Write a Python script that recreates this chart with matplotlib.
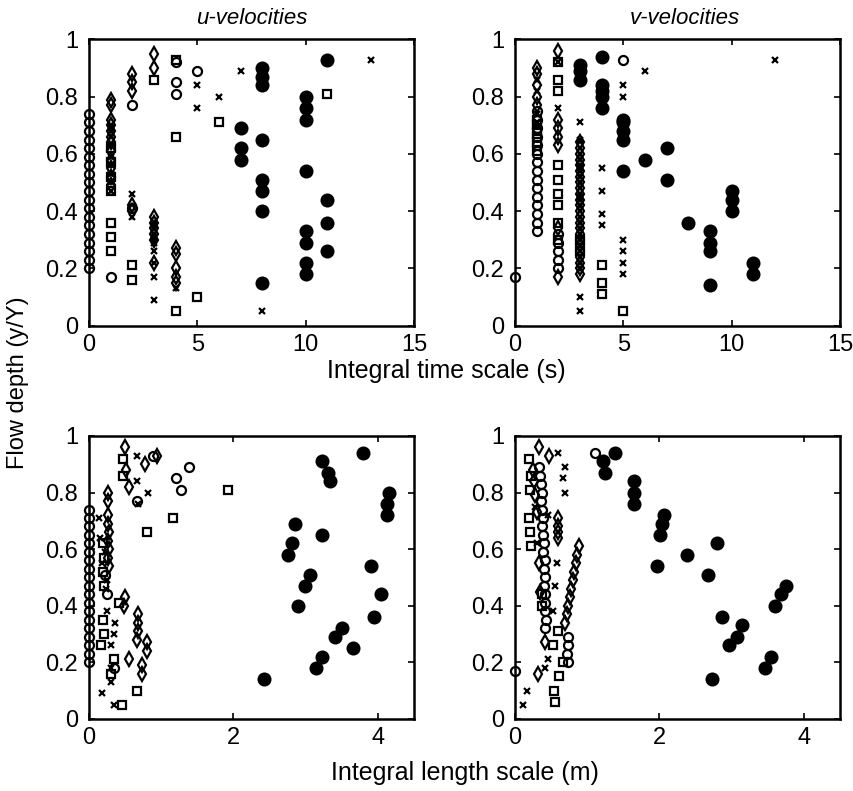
import matplotlib
matplotlib.use("Agg")
import matplotlib.pyplot as plt

plt.rcParams["font.family"] = ["Liberation Sans", "DejaVu Sans"]

# ---- u-velocities, integral time scale (s) ----
tu_circ = [(0, 0.20), (0, 0.23), (0, 0.26), (0, 0.29), (0, 0.32), (0, 0.35), (0, 0.38),
           (0, 0.41), (0, 0.44), (0, 0.47), (0, 0.50), (0, 0.53), (0, 0.56), (0, 0.59),
           (0, 0.62), (0, 0.65), (0, 0.68), (0, 0.71), (0, 0.74),
           (1, 0.17), (2, 0.77), (2, 0.41), (4, 0.92), (4, 0.85), (4, 0.81), (5, 0.89)]
tu_diam = [(1, 0.79), (1, 0.77), (1, 0.72), (1, 0.70), (1, 0.68), (1, 0.66), (1, 0.64),
           (1, 0.61), (1, 0.58), (1, 0.55), (1, 0.52), (1, 0.49), (2, 0.88), (2, 0.85),
           (2, 0.82), (2, 0.42), (2, 0.40), (3, 0.95), (3, 0.90), (3, 0.38), (3, 0.36),
           (3, 0.34), (3, 0.32), (3, 0.30), (3, 0.22), (4, 0.27), (4, 0.25), (4, 0.20),
           (4, 0.17), (4, 0.15)]
tu_cross = [(1, 0.69), (1, 0.63), (1, 0.59), (1, 0.56), (1, 0.53), (1, 0.50), (1, 0.47),
            (2, 0.46), (2, 0.38), (3, 0.35), (3, 0.31), (3, 0.29), (3, 0.26), (3, 0.22),
            (3, 0.17), (3, 0.09), (4, 0.13), (5, 0.84), (5, 0.76), (6, 0.80), (7, 0.89),
            (8, 0.05), (13, 0.93)]
tu_sq = [(1, 0.62), (1, 0.57), (1, 0.52), (1, 0.47), (1, 0.36), (1, 0.31), (1, 0.26),
         (2, 0.21), (2, 0.16), (3, 0.86), (4, 0.93), (4, 0.66), (4, 0.05), (5, 0.10),
         (6, 0.71), (11, 0.81)]
tu_dot = [(7, 0.69), (7, 0.62), (7, 0.58), (8, 0.90), (8, 0.87), (8, 0.84), (8, 0.65),
          (8, 0.51), (8, 0.47), (8, 0.40), (8, 0.15), (10, 0.80), (10, 0.76), (10, 0.72),
          (10, 0.54), (10, 0.33), (10, 0.29), (10, 0.22), (10, 0.18), (11, 0.93),
          (11, 0.44), (11, 0.36), (11, 0.26)]

# ---- v-velocities, integral time scale (s) ----
tv_circ = [(0, 0.17), (1, 0.33), (1, 0.36), (1, 0.39), (1, 0.42), (1, 0.45), (1, 0.48),
           (1, 0.51), (1, 0.54), (1, 0.57), (1, 0.60), (1, 0.63), (1, 0.66), (1, 0.69),
           (1, 0.72), (1, 0.75), (2, 0.32), (2, 0.29), (2, 0.26), (2, 0.23), (2, 0.20),
           (5, 0.93)]
tv_diam = [(1, 0.90), (1, 0.88), (1, 0.84), (1, 0.80), (1, 0.77), (2, 0.96), (2, 0.72),
           (2, 0.69), (2, 0.66), (2, 0.63), (2, 0.34), (2, 0.17),
           (3, 0.64), (3, 0.62), (3, 0.60), (3, 0.58), (3, 0.56), (3, 0.54), (3, 0.52),
           (3, 0.50), (3, 0.48), (3, 0.46), (3, 0.44), (3, 0.42), (3, 0.40), (3, 0.38),
           (3, 0.36), (3, 0.34), (3, 0.32), (3, 0.30), (3, 0.28), (3, 0.26), (3, 0.24),
           (3, 0.22), (3, 0.20), (3, 0.18)]
tv_cross = [(1, 0.86), (1, 0.82), (1, 0.74), (1, 0.71), (2, 0.92), (2, 0.76), (3, 0.71),
            (3, 0.65), (3, 0.55), (3, 0.45), (3, 0.10), (3, 0.05), (4, 0.55), (4, 0.47),
            (4, 0.39), (4, 0.35), (5, 0.84), (5, 0.80), (5, 0.30), (5, 0.26), (5, 0.22),
            (5, 0.18), (6, 0.89), (12, 0.93)]
tv_sq = [(1, 0.72), (1, 0.70), (1, 0.68), (1, 0.66), (1, 0.64), (1, 0.61), (2, 0.92),
         (2, 0.86), (2, 0.82), (2, 0.56), (2, 0.51), (2, 0.46), (2, 0.42), (2, 0.36),
         (2, 0.30), (3, 0.30), (3, 0.26), (4, 0.21), (4, 0.15), (4, 0.11), (5, 0.05)]
tv_dot = [(3, 0.91), (3, 0.89), (3, 0.86), (4, 0.94), (4, 0.84), (4, 0.82), (4, 0.80),
          (4, 0.76), (5, 0.72), (5, 0.71), (5, 0.68), (5, 0.65), (5, 0.54), (6, 0.58),
          (7, 0.62), (7, 0.51), (8, 0.36), (9, 0.33), (9, 0.29), (9, 0.26), (9, 0.14),
          (10, 0.47), (10, 0.44), (10, 0.40), (11, 0.22), (11, 0.18)]

# ---- u-velocities, integral length scale (m) ----
lu_circ = [(0, 0.20), (0, 0.23), (0, 0.26), (0, 0.29), (0, 0.32), (0, 0.35), (0, 0.38),
           (0, 0.41), (0, 0.44), (0, 0.47), (0, 0.50), (0, 0.53), (0, 0.56), (0, 0.59),
           (0, 0.62), (0, 0.65), (0, 0.68), (0, 0.71), (0, 0.74),
           (0.89, 0.93), (1.39, 0.89), (1.21, 0.85), (1.27, 0.81), (0.66, 0.77),
           (0.22, 0.51), (0.25, 0.44), (0.35, 0.18)]
lu_diam = [(0.50, 0.96), (0.51, 0.88), (0.55, 0.82), (0.78, 0.90), (0.94, 0.93),
           (0.27, 0.80), (0.27, 0.77), (0.27, 0.72), (0.27, 0.69), (0.28, 0.66),
           (0.27, 0.63), (0.28, 0.60), (0.27, 0.57), (0.28, 0.54), (0.50, 0.43),
           (0.49, 0.40), (0.68, 0.37), (0.68, 0.34), (0.68, 0.31), (0.66, 0.28),
           (0.80, 0.27), (0.80, 0.24), (0.55, 0.21), (0.73, 0.19), (0.73, 0.16)]
lu_cross = [(0.66, 0.93), (0.67, 0.84), (0.82, 0.80), (0.68, 0.76), (0.14, 0.71),
            (0.15, 0.64), (0.22, 0.59), (0.18, 0.55), (0.25, 0.49), (0.24, 0.46),
            (0.245, 0.38), (0.36, 0.34), (0.34, 0.30), (0.31, 0.26), (0.30, 0.18),
            (0.31, 0.13), (0.175, 0.09), (0.35, 0.05)]
lu_sq = [(0.47, 0.92), (0.47, 0.86), (1.93, 0.81), (1.16, 0.71), (0.80, 0.66),
         (0.20, 0.62), (0.21, 0.57), (0.20, 0.52), (0.21, 0.47), (0.41, 0.41),
         (0.20, 0.35), (0.21, 0.30), (0.17, 0.26), (0.35, 0.21), (0.31, 0.16),
         (0.66, 0.10), (0.46, 0.05)]
lu_dot = [(3.80, 0.94), (3.22, 0.91), (3.31, 0.87), (3.34, 0.84), (4.16, 0.80),
          (4.12, 0.76), (4.12, 0.72), (2.85, 0.69), (3.22, 0.65), (2.81, 0.62),
          (2.75, 0.58), (3.90, 0.54), (3.06, 0.51), (2.99, 0.47), (4.05, 0.44),
          (2.89, 0.40), (3.94, 0.36), (3.50, 0.32), (3.41, 0.29), (3.66, 0.25),
          (3.22, 0.22), (3.14, 0.18), (2.43, 0.14)]

# ---- v-velocities, integral length scale (m) ----
lv_circ = [(0.0, 0.17), (1.11, 0.94), (0.33, 0.89), (0.35, 0.86), (0.36, 0.83),
           (0.37, 0.80), (0.36, 0.77), (0.38, 0.74), (0.39, 0.71), (0.38, 0.68),
           (0.39, 0.65), (0.40, 0.62), (0.39, 0.59), (0.41, 0.56), (0.40, 0.53),
           (0.41, 0.50), (0.40, 0.47), (0.42, 0.44), (0.41, 0.41), (0.42, 0.38),
           (0.43, 0.35), (0.42, 0.32), (0.73, 0.29), (0.73, 0.26), (0.72, 0.23),
           (0.73, 0.20)]
lv_diam = [(0.33, 0.96), (0.47, 0.93), (0.59, 0.71), (0.59, 0.68), (0.59, 0.66),
           (0.59, 0.64), (0.88, 0.61), (0.86, 0.58), (0.84, 0.55), (0.82, 0.52),
           (0.80, 0.49), (0.78, 0.46), (0.76, 0.43), (0.74, 0.40), (0.72, 0.37),
           (0.69, 0.34), (0.41, 0.27), (0.32, 0.16), (0.25, 0.88), (0.27, 0.84),
           (0.28, 0.79), (0.30, 0.73), (0.33, 0.55), (0.35, 0.45)]
lv_cross = [(0.60, 0.94), (0.69, 0.89), (0.67, 0.85), (0.69, 0.80), (0.46, 0.72),
            (0.58, 0.55), (0.56, 0.47), (0.52, 0.38), (0.46, 0.21), (0.42, 0.18),
            (0.17, 0.10), (0.11, 0.05), (0.30, 0.62), (0.28, 0.75)]
lv_sq = [(0.56, 0.06), (0.54, 0.10), (0.61, 0.15), (0.59, 0.31), (0.53, 0.26),
         (0.67, 0.20), (0.20, 0.92), (0.22, 0.86), (0.21, 0.81), (0.20, 0.71),
         (0.21, 0.66), (0.22, 0.61), (0.38, 0.44), (0.37, 0.40)]
lv_dot = [(1.39, 0.94), (1.22, 0.91), (1.25, 0.87), (1.65, 0.84), (1.65, 0.80),
          (1.65, 0.76), (2.07, 0.72), (2.03, 0.69), (2.01, 0.65), (2.80, 0.62),
          (2.38, 0.58), (1.96, 0.54), (2.67, 0.51), (3.75, 0.47), (3.68, 0.44),
          (3.60, 0.40), (2.87, 0.36), (3.14, 0.33), (3.07, 0.29), (2.97, 0.26),
          (3.55, 0.22), (3.46, 0.18), (2.73, 0.14)]

panels = [
    (tu_circ, tu_diam, tu_cross, tu_sq, tu_dot),
    (tv_circ, tv_diam, tv_cross, tv_sq, tv_dot),
    (lu_circ, lu_diam, lu_cross, lu_sq, lu_dot),
    (lv_circ, lv_diam, lv_cross, lv_sq, lv_dot),
]

W, H = 854, 791
fig = plt.figure(figsize=(W / 100, H / 100), dpi=100)
boxes = [(89, 39.5, 414, 325.5), (515, 39.5, 840, 325.5),
         (89, 436, 414, 718.8), (515, 436, 840, 718.8)]

styles = [dict(marker="o", ms=6.5, mfc="none"),
          dict(marker="d", ms=7.0, mfc="none"),
          dict(marker="x", ms=4.0),
          dict(marker="s", ms=5.6, mfc="none"),
          dict(marker="o", ms=8.5, mfc="k")]

for i, (series, (x0, y0, x1, y1)) in enumerate(zip(panels, boxes)):
    ax = fig.add_axes([x0 / W, 1 - y1 / H, (x1 - x0) / W, (y1 - y0) / H])
    for pts, st in zip(series, styles):
        xs = [p[0] for p in pts]; ys = [p[1] for p in pts]
        ax.plot(xs, ys, ls="none", color="k", mec="k", mew=1.6, clip_on=False, **st)
    if i < 2:
        ax.set_xlim(0, 15); ax.set_xticks([0, 5, 10, 15])
    else:
        ax.set_xlim(0, 4.5); ax.set_xticks([0, 2, 4])
    ax.set_ylim(0, 1)
    ax.set_yticks([0, 0.2, 0.4, 0.6, 0.8, 1])
    ax.set_yticklabels(["0", "0.2", "0.4", "0.6", "0.8", "1"])
    ax.tick_params(direction="in", top=True, right=True, length=4, width=1.2,
                   labelsize=17)
    ax.tick_params(axis="x", pad=6)
    ax.tick_params(axis="y", pad=8)
    for s in ax.spines.values():
        s.set_linewidth(1.8)

fig.text(252 / W, 1 - 18 / H, "u-velocities", ha="center", va="center",
         fontsize=16, style="italic")
fig.text(685 / W, 1 - 18 / H, "v-velocities", ha="center", va="center",
         fontsize=16, style="italic")
fig.text(446 / W, 1 - 371 / H, "Integral time scale (s)", ha="center", va="center",
         fontsize=18)
fig.text(465 / W, 1 - 773 / H, "Integral length scale (m)", ha="center", va="center",
         fontsize=18)
fig.text(18 / W, 1 - 383 / H, "Flow depth (y/Y)", ha="center", va="center",
         fontsize=17, rotation=90)

fig.savefig("out.png", dpi=100)
